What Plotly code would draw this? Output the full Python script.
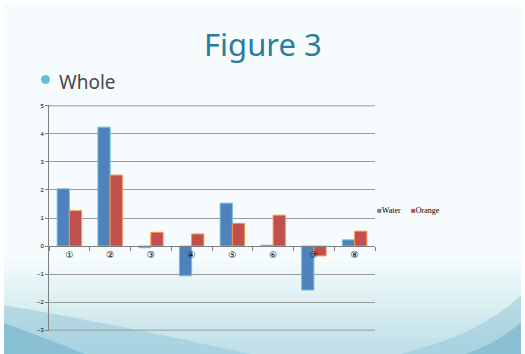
import plotly.graph_objects as go

categories = ["①", "②", "③", "④", "⑤", "⑥", "⑦", "⑧"]
water = [2.04, 4.24, -0.06, -1.06, 1.53, 0.03, -1.57, 0.22]
orange = [1.26, 2.53, 0.49, 0.43, 0.81, 1.10, -0.35, 0.53]
y_ticks = [5, 4, 3, 2, 1, 0, -1, -2, -3]

W, H = 525, 354
L, R, T, B = 49, 375, 105, 331


def px(x):
    return (x - L) / (R - L)


def py(y):
    return (B - y) / (B - T)


WATER_C, WATER_E = "#4F81BD", "#6CC3DC"
ORANGE_C, ORANGE_E = "#C0504D", "#F79646"

fig = go.Figure()
fig.add_trace(go.Bar(name="Water", x=categories, y=water, showlegend=False,
                     marker=dict(color=WATER_C, line=dict(color=WATER_E, width=1))))
fig.add_trace(go.Bar(name="Orange", x=categories, y=orange, showlegend=False,
                     marker=dict(color=ORANGE_C, line=dict(color=ORANGE_E, width=1))))
# legend entries: coloured square glyph + name
fig.add_trace(go.Scatter(name=f"<span style='color:{WATER_C}'>■</span>Water", x=[None], y=[None],
                         mode="markers", legend="legend",
                         marker=dict(size=1, color="rgba(0,0,0,0)", line=dict(width=0))))
fig.add_trace(go.Scatter(name=f"<span style='color:{ORANGE_C}'>■</span>Orange", x=[None], y=[None],
                         mode="markers", legend="legend2",
                         marker=dict(size=1, color="rgba(0,0,0,0)", line=dict(width=0))))

shapes = []
# slide background
shapes.append(dict(type="rect", xref="paper", yref="paper", x0=px(4), x1=px(521), y0=py(354), y1=py(4),
                   fillcolor="#F6FBFD", line=dict(width=0), layer="below"))
# vertical gradient toward bottom
n = 12
for i in range(n):
    y0 = 262 + i * (92 / n)
    shapes.append(dict(type="rect", xref="paper", yref="paper", layer="below", line=dict(width=0),
                       x0=px(4), x1=px(521), y0=py(354), y1=py(y0),
                       fillcolor=f"rgba(170,215,228,{0.06 if i < 6 else 0.12})"))
# left wedge
shapes.append(dict(type="path", xref="paper", yref="paper", layer="below", line=dict(width=0),
                   fillcolor="rgba(140,195,212,0.45)",
                   path=f"M {px(4)},{py(305)} Q {px(120)},{py(325)} {px(250)},{py(354)} L {px(4)},{py(354)} Z"))
shapes.append(dict(type="path", xref="paper", yref="paper", layer="below", line=dict(width=0),
                   fillcolor="rgba(110,175,198,0.55)",
                   path=f"M {px(4)},{py(323)} Q {px(40)},{py(336)} {px(85)},{py(354)} L {px(4)},{py(354)} Z"))
# right wedge
shapes.append(dict(type="path", xref="paper", yref="paper", layer="below", line=dict(width=0),
                   fillcolor="rgba(140,195,212,0.45)",
                   path=f"M {px(521)},{py(295)} Q {px(480)},{py(335)} {px(400)},{py(354)} L {px(521)},{py(354)} Z"))
shapes.append(dict(type="path", xref="paper", yref="paper", layer="below", line=dict(width=0),
                   fillcolor="rgba(110,175,198,0.55)",
                   path=f"M {px(521)},{py(322)} Q {px(500)},{py(342)} {px(465)},{py(354)} L {px(521)},{py(354)} Z"))
# gridlines at the range ends (plotly omits them at the edges)
for yv in (y_ticks[0], y_ticks[-1]):
    shapes.append(dict(type="line", xref="paper", yref="y", x0=0, x1=1, y0=yv, y1=yv,
                       line=dict(color="#9a9a9a", width=1), layer="below"))
# bullet dot
shapes.append(dict(type="circle", xref="paper", yref="paper", x0=px(41), x1=px(50), y0=py(84), y1=py(75),
                   fillcolor="#6BBAD9", line=dict(width=0)))

annotations = [
    dict(text="Figure 3", xref="paper", yref="paper", x=px(263), y=py(44), showarrow=False,
         font=dict(family="Noto Sans", size=31, color="#2B7D9C"), xanchor="center", yanchor="middle"),
    dict(text="Whole", xref="paper", yref="paper", x=px(57), y=py(82), showarrow=False,
         font=dict(family="Noto Sans", size=19, color="#484848"), xanchor="left", yanchor="middle"),
]

legend_font = dict(family="Liberation Serif", size=8, color="#000000")
fig.update_layout(
    width=W, height=H,
    margin=dict(l=L, r=W - R, t=T, b=H - B),
    paper_bgcolor="white", plot_bgcolor="rgba(0,0,0,0)",
    barmode="group", bargap=0.4, bargroupgap=0.0,
    shapes=shapes, annotations=annotations,
    legend=dict(x=px(337), xanchor="left", y=py(210), yanchor="middle", font=legend_font,
                bgcolor="rgba(0,0,0,0)", itemwidth=30),
    legend2=dict(x=px(371), xanchor="left", y=py(210), yanchor="middle", font=legend_font,
                 bgcolor="rgba(0,0,0,0)", itemwidth=30),
    showlegend=True,
)
fig.update_yaxes(range=[-3.03, 5.03], tickvals=y_ticks, ticks="outside", ticklen=3, tickcolor="#808080",
                 showline=True, linecolor="#808080", linewidth=1,
                 showgrid=True, gridcolor="#9a9a9a", gridwidth=1, zeroline=False,
                 tickfont=dict(family="Liberation Sans", size=6, color="#000000"))
fig.update_xaxes(anchor="free", position=3.03 / 8.06, showline=True, linecolor="#808080", linewidth=1,
                 ticks="outside", ticklen=4, tickcolor="#808080", tickson="boundaries",
                 showgrid=False, tickfont=dict(family="DejaVu Sans", size=9, color="#000000"))

fig.write_html("out.html")
